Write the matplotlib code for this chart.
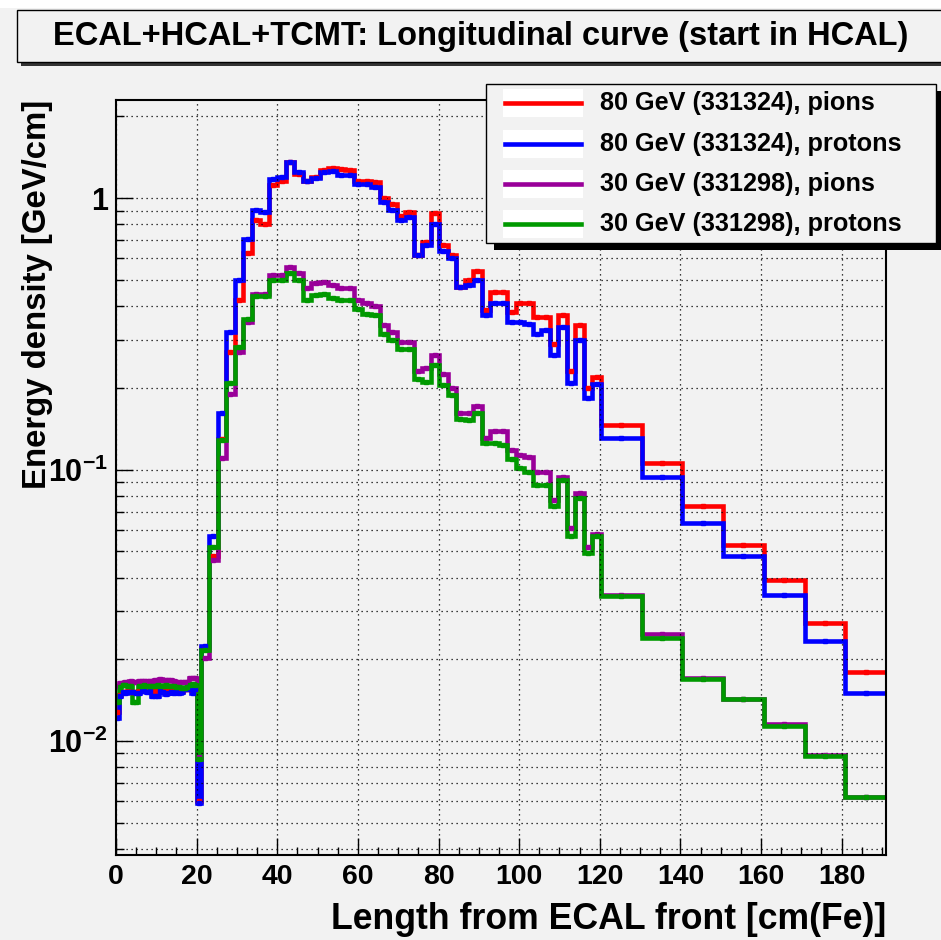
import numpy as np
import matplotlib
matplotlib.use("Agg")
import matplotlib.pyplot as plt
from matplotlib.patches import Rectangle
from matplotlib.lines import Line2D
from matplotlib.ticker import FixedLocator, FixedFormatter, LogLocator, MultipleLocator, NullFormatter

plt.rcParams['font.family'] = ['Liberation Sans', 'DejaVu Sans']
plt.rcParams['font.weight'] = 'bold'
plt.rcParams['mathtext.fontset'] = 'custom'
plt.rcParams['mathtext.rm'] = 'Liberation Sans:bold'
plt.rcParams['mathtext.bf'] = 'Liberation Sans:bold'
plt.rcParams['mathtext.default'] = 'rm'

# Bin edges [cm(Fe)]: 30 ECAL layers, ECAL/HCAL gap, 47 fine HCAL/TCMT layers, coarse TCMT
ecal_edges = np.linspace(0.0, 20.0, 31)
hcal_edges = np.linspace(21.0, 120.3, 48)
tcmt_edges = [120.3, 130.4, 140.5, 150.6, 160.7, 170.8, 180.9, 191.0]

# 80 GeV pions (run 331324)
pi80_ecal = [0.0128, 0.0148, 0.0152, 0.0152, 0.0153, 0.0152, 0.0152, 0.0152, 0.0153, 0.0154,
             0.0154, 0.0153, 0.0153, 0.0152, 0.0154, 0.0153, 0.0154, 0.0153, 0.0152, 0.0153,
             0.0153, 0.0152, 0.0153, 0.0153, 0.0153, 0.0156, 0.0156, 0.0156, 0.0154, 0.0156]
pi80_gap = [0.0060]
pi80_hcal = [0.022, 0.048, 0.13, 0.27, 0.42, 0.627, 0.83, 0.80, 1.12, 1.155,
             1.36, 1.23, 1.16, 1.20, 1.27, 1.29, 1.28, 1.27, 1.16, 1.16,
             1.15, 1.0, 0.95, 0.86, 0.89, 0.62, 0.69, 0.88, 0.67, 0.615,
             0.47, 0.50, 0.54, 0.386, 0.45, 0.45, 0.38, 0.41, 0.41, 0.366,
             0.366, 0.29, 0.37, 0.23, 0.34, 0.20, 0.22]
pi80_tcmt = [0.146, 0.106, 0.0735, 0.0528, 0.0391, 0.0272, 0.0179]

# 80 GeV protons (run 331324)
p80_ecal = [0.0122, 0.0146, 0.0151, 0.0150, 0.0151, 0.0152, 0.0151, 0.0150, 0.0150, 0.0153,
            0.0153, 0.0152, 0.0153, 0.0147, 0.0146, 0.0147, 0.0153, 0.0152, 0.0149, 0.0150,
            0.0151, 0.0150, 0.0151, 0.0150, 0.0151, 0.0156, 0.0155, 0.0156, 0.0150, 0.0155]
p80_gap = [0.0059]
p80_hcal = [0.0223, 0.0567, 0.161, 0.322, 0.498, 0.709, 0.906, 0.889, 1.18, 1.20,
            1.356, 1.25, 1.155, 1.19, 1.25, 1.26, 1.22, 1.22, 1.126, 1.126,
            1.10, 0.965, 0.906, 0.83, 0.85, 0.62, 0.67, 0.80, 0.64, 0.60,
            0.47, 0.48, 0.50, 0.37, 0.41, 0.41, 0.35, 0.35, 0.345, 0.316,
            0.326, 0.264, 0.335, 0.209, 0.30, 0.183, 0.206]
p80_tcmt = [0.1305, 0.0938, 0.0638, 0.0482, 0.0346, 0.0233, 0.0150]

# 30 GeV pions (run 331298)
pi30_ecal = [0.0160, 0.0163, 0.0163, 0.0165, 0.0165, 0.0166, 0.0165, 0.0165, 0.0166, 0.0166,
             0.0166, 0.0166, 0.0166, 0.0166, 0.0168, 0.0168, 0.0169, 0.0168, 0.0168, 0.0168,
             0.0168, 0.0167, 0.0165, 0.0165, 0.0165, 0.0165, 0.0165, 0.0171, 0.0171, 0.0171]
pi30_gap = [0.0087]
pi30_hcal = [0.0203, 0.0466, 0.110, 0.19, 0.27, 0.35, 0.445, 0.445, 0.52, 0.52,
             0.56, 0.53, 0.465, 0.485, 0.49, 0.48, 0.465, 0.465, 0.42, 0.41,
             0.40, 0.34, 0.32, 0.296, 0.296, 0.23, 0.236, 0.264, 0.225, 0.199,
             0.161, 0.161, 0.172, 0.131, 0.139, 0.139, 0.118, 0.113, 0.111, 0.098,
             0.098, 0.077, 0.094, 0.061, 0.082, 0.052, 0.058]
pi30_tcmt = [0.0346, 0.0248, 0.0170, 0.0143, 0.0115, 0.0089, 0.0062]

# 30 GeV protons (run 331298)
p30_ecal = [0.0139, 0.0158, 0.0161, 0.0161, 0.0160, 0.0160, 0.0139, 0.0139, 0.0159, 0.0160,
            0.0161, 0.0160, 0.0159, 0.0160, 0.0159, 0.0161, 0.0160, 0.0160, 0.0161, 0.0160,
            0.0160, 0.0159, 0.0158, 0.0158, 0.0157, 0.0157, 0.0158, 0.0161, 0.0162, 0.0161]
p30_gap = [0.0086]
p30_hcal = [0.0217, 0.052, 0.129, 0.208, 0.284, 0.36, 0.435, 0.435, 0.50, 0.50,
            0.53, 0.50, 0.42, 0.44, 0.445, 0.43, 0.42, 0.42, 0.39, 0.375,
            0.37, 0.316, 0.30, 0.277, 0.277, 0.216, 0.21, 0.242, 0.205, 0.188,
            0.153, 0.152, 0.161, 0.125, 0.125, 0.123, 0.109, 0.1013, 0.0983, 0.0878,
            0.0878, 0.0731, 0.0912, 0.0567, 0.0785, 0.0492, 0.0567]
p30_tcmt = [0.0341, 0.0240, 0.0169, 0.0143, 0.0114, 0.0088, 0.0062]

labels = ['80 GeV (331324), pions', '80 GeV (331324), protons',
          '30 GeV (331298), pions', '30 GeV (331298), protons']
colors = ['#ff0000', '#0000ff', '#990099', '#009900']

edges = np.concatenate([ecal_edges, hcal_edges, tcmt_edges[1:]])
series = [pi80_ecal + pi80_gap + pi80_hcal + pi80_tcmt,
          p80_ecal + p80_gap + p80_hcal + p80_tcmt,
          pi30_ecal + pi30_gap + pi30_hcal + pi30_tcmt,
          p30_ecal + p30_gap + p30_hcal + p30_tcmt]

W, H = 941, 940
bg = '#f2f2f2'
lw = 3.3
fig = plt.figure(figsize=(W / 100, H / 100), dpi=100)
fig.patch.set_facecolor(bg)

def fx(px):
    return px / W

def fy(py):
    return 1 - py / H

ax = fig.add_axes([fx(116), fy(855), fx(886) - fx(116), fy(100) - fy(855)])
ax.set_facecolor(bg)

centers = 0.5 * (edges[:-1] + edges[1:])
for vals, c in zip(series, colors):
    st = ax.stairs(vals, edges, baseline=None, color=c, lw=lw)
    st.set_joinstyle('miter')
    ax.plot(centers, vals, ls='none', marker='s', ms=2.8, color=c)

ax.set_yscale('log')
ax.set_xlim(0, 191)
ax.set_ylim(0.0038, 2.3)

ax.xaxis.set_major_locator(MultipleLocator(20))
ax.xaxis.set_minor_locator(MultipleLocator(5))
ax.yaxis.set_major_locator(FixedLocator([0.01, 0.1, 1]))
ax.yaxis.set_major_formatter(FixedFormatter([r'$10^{-2}$', r'$10^{-1}$', '1']))
ax.yaxis.set_minor_locator(LogLocator(base=10, subs=np.arange(2, 10)))
ax.yaxis.set_minor_formatter(NullFormatter())

ax.tick_params(which='both', direction='in', width=1)
ax.tick_params(which='major', length=12)
ax.tick_params(which='minor', length=6)
ax.tick_params(axis='x', labelsize=20.5, pad=6.5)
ax.tick_params(axis='y', labelsize=22, pad=6)
for lab in ax.get_xticklabels() + ax.get_yticklabels():
    lab.set_fontweight('bold')

ax.grid(True, which='major', axis='x', color='k', lw=0.9, ls=(0, (1, 3)))
ax.grid(True, which='both', axis='y', color='k', lw=0.9, ls=(0, (1, 3)))
for sp in ax.spines.values():
    sp.set_linewidth(1.5)

# axis titles
fig.text(fx(886), fy(929), 'Length from ECAL front [cm(Fe)]', ha='right', va='baseline',
         fontsize=25.7, fontweight='bold')
fig.text(fx(38), fy(100), 'Energy density [GeV/cm]', ha='center', va='top',
         rotation=90, fontsize=23.7, fontweight='bold')

# title box with shadow
fig.patches.append(Rectangle((0, fy(8)), 1, fy(0) - fy(8), transform=fig.transFigure,
                             facecolor='white', edgecolor='none', zorder=0))
fig.patches.append(Rectangle((fx(21), fy(66)), 1, fy(12) - fy(62),
                             transform=fig.transFigure, facecolor='#333333',
                             edgecolor='none', zorder=1))
fig.patches.append(Rectangle((fx(17), fy(62)), 1, fy(10) - fy(62), transform=fig.transFigure,
                             facecolor=bg, edgecolor='k', lw=1, zorder=1.1))
fig.text(fx(481), fy(37), 'ECAL+HCAL+TCMT: Longitudinal curve (start in HCAL)',
         ha='center', va='center', fontsize=23.5, fontweight='bold', zorder=3)

# legend box with shadow
lx0, ly0, lx1, ly1 = 486, 84, 936, 243
fig.patches.append(Rectangle((fx(lx0 + 8), fy(ly1 + 7)), fx(lx1) - fx(lx0), fy(ly0) - fy(ly1),
                             transform=fig.transFigure, facecolor='k', edgecolor='none',
                             zorder=1))
fig.patches.append(Rectangle((fx(lx0), fy(ly1)), fx(lx1) - fx(lx0), fy(ly0) - fy(ly1),
                             transform=fig.transFigure, facecolor=bg, edgecolor='k', lw=1,
                             zorder=1.1))
for yc, lab, c in zip([103, 144, 184, 224], labels, colors):
    fig.patches.append(Rectangle((fx(503), fy(yc + 14)), fx(583) - fx(503), fy(0) - fy(28),
                                 transform=fig.transFigure, facecolor='white',
                                 edgecolor='none', zorder=1.2))
    fig.lines.append(Line2D([fx(505), fx(581)], [fy(yc), fy(yc)], transform=fig.transFigure,
                            color=c, lw=lw, zorder=2))
    fig.text(fx(600), fy(yc), lab, ha='left', va='center', fontsize=18.2,
             fontweight='bold', zorder=3)

fig.savefig('out.png', dpi=100, facecolor=fig.get_facecolor())
